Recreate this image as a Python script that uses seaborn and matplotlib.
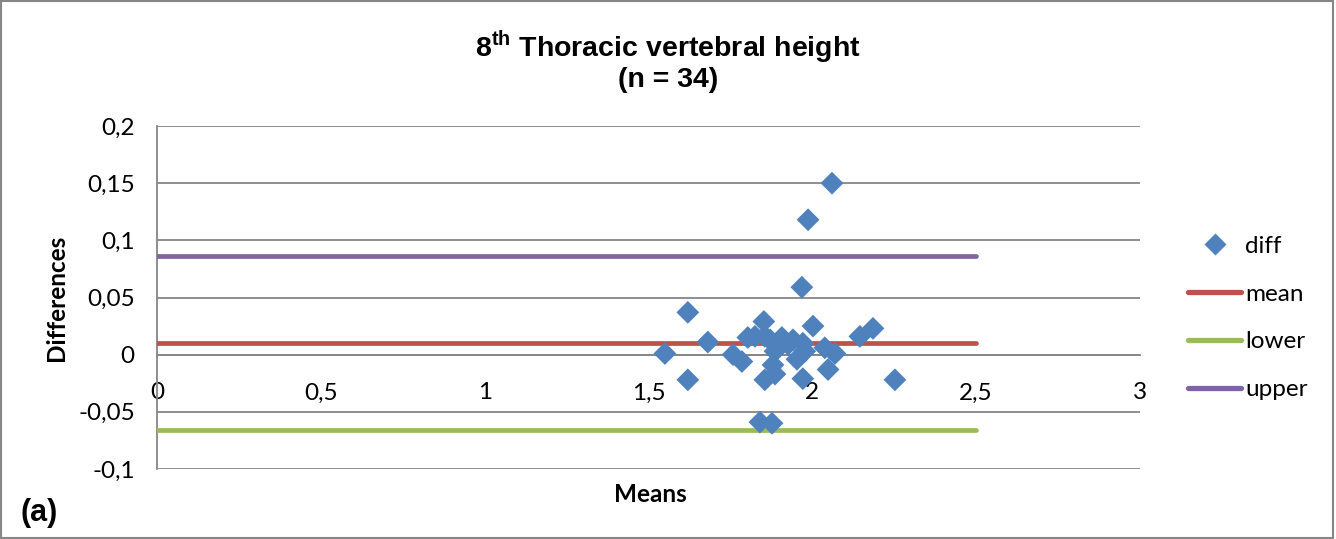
import matplotlib
matplotlib.use("Agg")
import matplotlib.pyplot as plt
import matplotlib.patches as mpatches
from matplotlib.lines import Line2D
from matplotlib.ticker import FuncFormatter, MultipleLocator
import seaborn as sns
import pandas as pd

# ---- data ----
means = [1.550, 1.620, 1.620, 1.681, 1.758, 1.785, 1.803, 1.825, 1.852, 1.855,
         1.886, 1.880, 1.886, 1.855, 1.840, 1.877, 1.907, 1.941, 1.953, 1.971,
         1.971, 1.968, 1.987, 2.060, 2.002, 2.038, 2.069, 2.048, 2.145, 2.185,
         2.252, 1.871, 1.926, 1.977]
diffs = [0.001, 0.037, -0.022, 0.011, 0.000, -0.006, 0.015, 0.016, 0.029, 0.016,
         0.003, -0.009, -0.017, -0.022, -0.059, -0.060, 0.015, 0.013, -0.004, 0.010,
         -0.021, 0.059, 0.118, 0.150, 0.025, 0.006, 0.001, -0.013, 0.016, 0.023,
         -0.022, 0.013, 0.009, 0.003]
line_x = [0, 2.5]
mean_val = 0.010
lower_val = -0.066
upper_val = 0.086

series_names = ["diff", "mean", "lower", "upper"]
colors = {"diff": "#4F81BD", "mean": "#C0504D", "lower": "#9BBB59", "upper": "#8064A2"}

sns.set_style("white")
plt.rcParams["font.family"] = ["Lato", "DejaVu Sans"]
plt.rcParams["mathtext.fontset"] = "custom"
plt.rcParams["mathtext.rm"] = "Liberation Sans:bold"
plt.rcParams["text.color"] = "black"
plt.rcParams["axes.labelcolor"] = "black"

W, H = 1336, 539
fig = plt.figure(figsize=(W / 100, H / 100), dpi=100)
ax = fig.add_axes([157 / W, 1 - 469 / H, (1140 - 157) / W, (469 - 126) / H])

grid_c = "#868686"
FS = 17.5

df_pts = pd.DataFrame({"Means": means, "Differences": diffs})
lines_df = pd.DataFrame({
    "x": line_x * 3,
    "y": [mean_val] * 2 + [lower_val] * 2 + [upper_val] * 2,
    "series": ["mean"] * 2 + ["lower"] * 2 + ["upper"] * 2,
})

sns.lineplot(data=lines_df, x="x", y="y", hue="series",
             palette={k: colors[k] for k in ["mean", "lower", "upper"]},
             linewidth=3.4, ax=ax, legend=False, zorder=3, estimator=None)
sns.scatterplot(data=df_pts, x="Means", y="Differences", marker="D", s=135,
                color=colors["diff"], edgecolor="none", ax=ax, zorder=4)

ax.set_xlim(0, 3)
ax.set_ylim(-0.1, 0.2)
ax.xaxis.set_major_locator(MultipleLocator(0.5))
ax.yaxis.set_major_locator(MultipleLocator(0.05))
fmt = FuncFormatter(lambda v, p: "{:g}".format(round(v, 4)).replace(".", ","))
ax.xaxis.set_major_formatter(fmt)
ax.yaxis.set_major_formatter(fmt)

ax.yaxis.grid(True, color=grid_c, linewidth=1.3, zorder=0)
ax.xaxis.grid(False)
for s in ["top", "right"]:
    ax.spines[s].set_visible(False)
ax.spines["left"].set_color(grid_c)
ax.spines["left"].set_linewidth(1.3)
ax.spines["bottom"].set_position(("data", 0))
ax.spines["bottom"].set_color(grid_c)
ax.spines["bottom"].set_linewidth(1.3)
ax.set_axisbelow(True)

ax.tick_params(axis="y", direction="out", length=5, width=1.3, color=grid_c,
               pad=11, labelsize=FS, labelcolor="black")
ax.tick_params(axis="x", direction="out", length=5, width=1.3, color=grid_c,
               pad=15, labelsize=FS, labelcolor="black")
ax.set_xlabel("")
ax.set_ylabel("")

fig.text(56 / W, 1 - 298 / H, "Differences", rotation=90, ha="center", va="center",
         fontsize=FS, fontweight="bold", color="black")
fig.text(650 / W, 1 - 494 / H, "Means", ha="center", va="center",
         fontsize=FS, fontweight="bold", color="black")
fig.text(21 / W, 1 - 513 / H, "(a)", ha="left", va="center",
         fontsize=22, fontweight="bold", family="Liberation Sans", color="black")
fig.text(668 / W, 1 - 61 / H,
         "8$^{\\mathrm{th}}$ Thoracic vertebral height\n(n = 34)",
         ha="center", va="center", fontsize=20.5, fontweight="bold",
         family="Liberation Sans", linespacing=1.05, color="black")

handles = [Line2D([], [], marker="D", linestyle="none", markersize=11,
                  color=colors["diff"], markeredgecolor="none")]
for k in ["mean", "lower", "upper"]:
    handles.append(Line2D([], [], color=colors[k], linewidth=3.8,
                          solid_capstyle="round"))
leg = fig.legend(handles, series_names, loc="center left",
                 bbox_to_anchor=(1166 / W, 1 - 318 / H), frameon=False,
                 fontsize=FS, handlelength=2.2, handletextpad=0.15, labelspacing=1.1)
for t in leg.get_texts():
    t.set_color("black")

fig.add_artist(mpatches.Rectangle((0.001, 0.002), 0.997, 0.996, transform=fig.transFigure,
                                  fill=False, edgecolor=grid_c, linewidth=1.5))

fig.savefig("out.png", dpi=100)
